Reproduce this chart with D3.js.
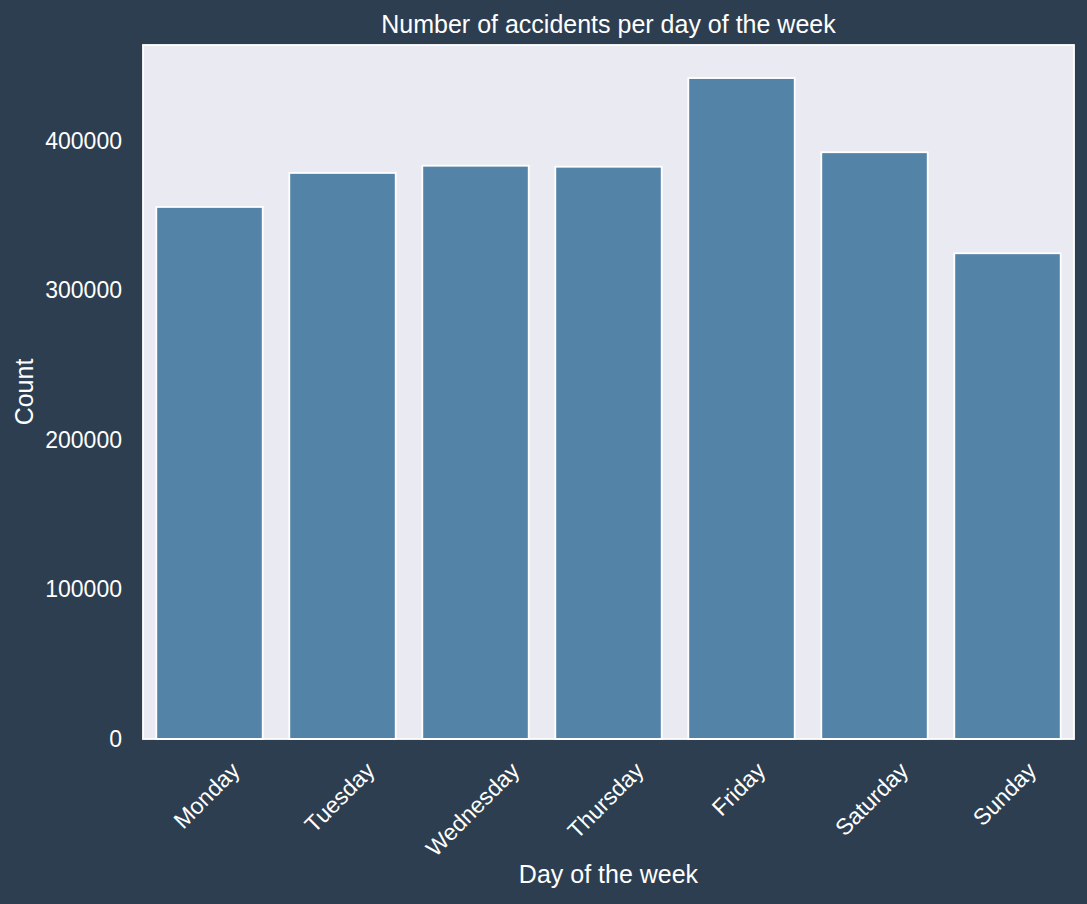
<!DOCTYPE html>
<html>
<head>
<meta charset="utf-8">
<script src="https://cdn.jsdelivr.net/npm/d3@7"></script>
<style>
  html, body { margin: 0; padding: 0; background: #2d3e50; }
  svg { display: block; font-family: "Liberation Sans", Arial, sans-serif; }
</style>
</head>
<body>
<div id="chart"></div>
<script>
const days = ["Monday", "Tuesday", "Wednesday", "Thursday", "Friday", "Saturday", "Sunday"];
const counts = [355720, 378460, 383280, 382610, 441900, 392300, 324750];
const yTicks = [0, 100000, 200000, 300000, 400000];

const width = 1087;
const height = 904;
const margins = { top: 45, right: 13, bottom: 165, left: 143 };
const innerW = width - margins.left - margins.right;
const innerH = height - margins.top - margins.bottom;

const svg = d3.select("#chart")
  .append("svg")
  .attr("width", width)
  .attr("height", height);

svg.append("rect")
  .attr("width", width)
  .attr("height", height)
  .attr("fill", "#2d3e50");

const g = svg.append("g")
  .attr("transform", `translate(${margins.left}, ${margins.top})`);

// matplotlib-style categories: bar width 0.8 of each unit slot
const x = d3.scaleBand()
  .domain(days)
  .range([0, innerW])
  .paddingInner(0.2)
  .paddingOuter(0.1);

const y = d3.scaleLinear()
  .domain([0, d3.max(counts) * 1.05])
  .range([innerH, 0]);

// plot background
g.append("rect")
  .attr("width", innerW)
  .attr("height", innerH)
  .attr("fill", "#eaeaf2");

// bars
g.append("g")
  .selectAll("rect")
  .data(days.map((d, i) => ({ day: d, value: counts[i] })))
  .join("rect")
  .attr("x", d => x(d.day))
  .attr("y", d => y(d.value))
  .attr("width", x.bandwidth())
  .attr("height", d => y(0) - y(d.value))
  .attr("fill", "#5483a8")
  .attr("stroke", "#ffffff")
  .attr("stroke-width", 1.8);

// frame
g.append("rect")
  .attr("width", innerW)
  .attr("height", innerH)
  .attr("fill", "none")
  .attr("stroke", "#ffffff")
  .attr("stroke-width", 1.8);

// y axis
const yAxis = g.append("g")
  .call(d3.axisLeft(y).tickValues(yTicks).tickSize(0).tickPadding(21).tickFormat(d3.format("d")));
yAxis.select(".domain").remove();
yAxis.selectAll("text")
  .attr("fill", "#ffffff")
  .style("font-size", "23px")
  .style("font-family", "'Liberation Sans', Arial, sans-serif");

// x tick labels, rotated 45deg, bbox centred under each band
const xLabels = g.append("g")
  .selectAll("text")
  .data(days)
  .join("text")
  .attr("fill", "#ffffff")
  .style("font-size", "23px")
  .attr("text-anchor", "middle")
  .attr("dy", "0.35em")
  .text(d => d);

xLabels.each(function(d) {
  const w = this.getComputedTextLength();
  const cx = x(d) + x.bandwidth() / 2 - 3;
  const cy = innerH + 23 + (w + 12.5) * 0.3536;
  d3.select(this)
    .attr("x", cx)
    .attr("y", cy)
    .attr("transform", `rotate(-45, ${cx}, ${cy})`);
});

// title
svg.append("text")
  .attr("x", margins.left + innerW / 2)
  .attr("y", 33)
  .attr("text-anchor", "middle")
  .attr("fill", "#ffffff")
  .style("font-size", "25px")
  .text("Number of accidents per day of the week");

// axis labels
svg.append("text")
  .attr("x", margins.left + innerW / 2)
  .attr("y", 883)
  .attr("text-anchor", "middle")
  .attr("fill", "#ffffff")
  .style("font-size", "25px")
  .text("Day of the week");

svg.append("text")
  .attr("transform", "rotate(-90)")
  .attr("x", -(margins.top + innerH / 2))
  .attr("y", 33)
  .attr("text-anchor", "middle")
  .attr("fill", "#ffffff")
  .style("font-size", "25px")
  .text("Count");
</script>
</body>
</html>
